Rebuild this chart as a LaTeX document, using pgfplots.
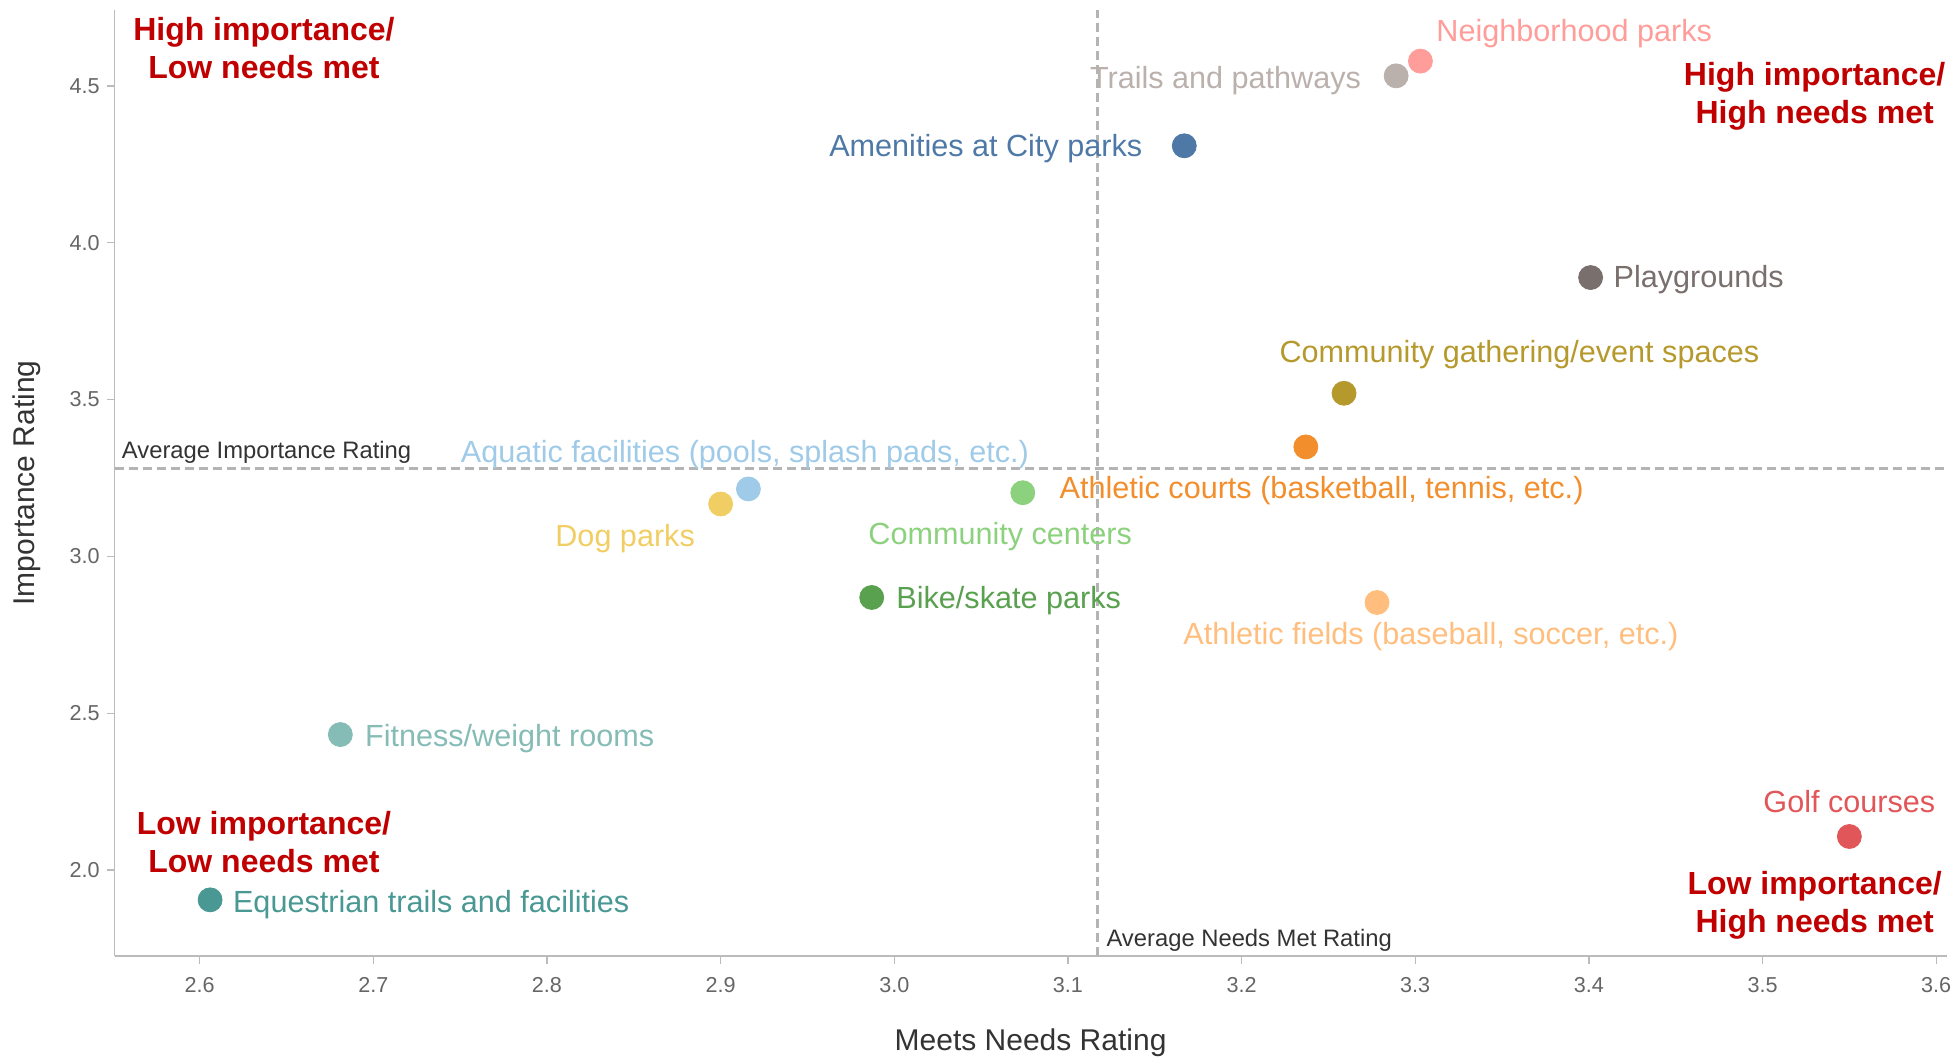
\documentclass[border=0pt]{standalone}
\usepackage{fontspec}
\setmainfont{Liberation Sans}
\usepackage{pgfplots}
\pgfplotsset{compat=1.18}
\definecolor{cNeigh}{HTML}{FF9D9A}
\definecolor{cTrails}{HTML}{BAB0AC}
\definecolor{cAmen}{HTML}{4E79A7}
\definecolor{cPlay}{HTML}{79706E}
\definecolor{cGather}{HTML}{B6992D}
\definecolor{cCourts}{HTML}{F28E2B}
\definecolor{cAqua}{HTML}{A0CBE8}
\definecolor{cDog}{HTML}{F1CE63}
\definecolor{cCenters}{HTML}{8CD17D}
\definecolor{cBike}{HTML}{59A14F}
\definecolor{cFields}{HTML}{FFBE7D}
\definecolor{cFit}{HTML}{86BCB6}
\definecolor{cEques}{HTML}{499894}
\definecolor{cGolf}{HTML}{E15759}
\definecolor{quad}{HTML}{C00000}
\definecolor{axisgray}{HTML}{BBBBBB}
\definecolor{tickgray}{HTML}{666666}
\definecolor{labelgray}{HTML}{333333}
\definecolor{avggray}{HTML}{B4B4B4}
\newcommand{\lbl}{\fontsize{15.3}{18}\selectfont}
\newcommand{\qlbl}{\fontsize{16}{19.3}\selectfont\bfseries}
\tikzset{dl/.style={font=\lbl, yshift=-1.5pt}, dle/.style={dl, inner sep=0pt}}
\begin{document}
\begin{tikzpicture}
\begin{axis}[
  scale only axis, width=916pt, height=473pt,
  xmin=2.551, xmax=3.606, ymin=1.726, ymax=4.742,
  axis x line*=bottom, axis y line*=left,
  axis line style={draw=axisgray, line width=0.8pt, -},
  xtick={2.6,2.7,2.8,2.9,3.0,3.1,3.2,3.3,3.4,3.5,3.6},
  ytick={2.0,2.5,3.0,3.5,4.0,4.5},
  /pgf/number format/fixed, /pgf/number format/fixed zerofill, /pgf/number format/precision=1,
  /pgf/number format/assume math mode=true,
  tick style={draw=axisgray, line width=0.7pt},
  tick align=outside, major tick length=4pt,
  ticklabel style={font=\fontsize{10.8}{12}\selectfont, text=tickgray},
  xticklabel style={yshift=-3pt},
  xlabel={Meets Needs Rating}, ylabel={Importance Rating},
  label style={font=\fontsize{15}{18}\selectfont, text=labelgray},
  xlabel style={at={(axis description cs:0.5,-0.092)}, anchor=center},
  ylabel style={at={(axis description cs:-0.0478,0.5)}, anchor=center},
  clip=false,
]
% average lines
\addplot[avggray, line width=1.7pt, dash pattern=on 4.5pt off 2.5pt] coordinates {(3.117,1.726) (3.117,4.742)};
\addplot[avggray, line width=1.7pt, dash pattern=on 4.5pt off 2.5pt] coordinates {(2.551,3.281) (3.606,3.281)};
\node[anchor=west, inner sep=0pt, yshift=-1.2pt, text=labelgray, font=\fontsize{11.9}{14}\selectfont] at (axis cs:2.555,3.339) {Average Importance Rating};
\node[anchor=west, inner sep=0pt, yshift=-1.2pt, text=labelgray, font=\fontsize{11.9}{14}\selectfont] at (axis cs:3.122,1.785) {Average Needs Met Rating};
% points
\addplot[only marks, mark=*, mark size=6pt, cTrails, mark options={draw=none, fill=cTrails}] coordinates {(3.289,4.532)};
\addplot[only marks, mark=*, mark size=6pt, cNeigh, mark options={draw=none, fill=cNeigh}] coordinates {(3.303,4.579)};
\addplot[only marks, mark=*, mark size=6pt, cAmen, mark options={draw=none, fill=cAmen}] coordinates {(3.167,4.309)};
\addplot[only marks, mark=*, mark size=6pt, cPlay, mark options={draw=none, fill=cPlay}] coordinates {(3.401,3.889)};
\addplot[only marks, mark=*, mark size=6pt, cGather, mark options={draw=none, fill=cGather}] coordinates {(3.259,3.520)};
\addplot[only marks, mark=*, mark size=6pt, cCourts, mark options={draw=none, fill=cCourts}] coordinates {(3.237,3.349)};
\addplot[only marks, mark=*, mark size=6pt, cDog, mark options={draw=none, fill=cDog}] coordinates {(2.900,3.167)};
\addplot[only marks, mark=*, mark size=6pt, cAqua, mark options={draw=none, fill=cAqua}] coordinates {(2.916,3.215)};
\addplot[only marks, mark=*, mark size=6pt, cCenters, mark options={draw=none, fill=cCenters}] coordinates {(3.074,3.203)};
\addplot[only marks, mark=*, mark size=6pt, cBike, mark options={draw=none, fill=cBike}] coordinates {(2.987,2.869)};
\addplot[only marks, mark=*, mark size=6pt, cFields, mark options={draw=none, fill=cFields}] coordinates {(3.278,2.853)};
\addplot[only marks, mark=*, mark size=6pt, cFit, mark options={draw=none, fill=cFit}] coordinates {(2.681,2.432)};
\addplot[only marks, mark=*, mark size=6pt, cEques, mark options={draw=none, fill=cEques}] coordinates {(2.606,1.905)};
\addplot[only marks, mark=*, mark size=6pt, cGolf, mark options={draw=none, fill=cGolf}] coordinates {(3.550,2.107)};
% data labels
\node[anchor=west, dle, text=cNeigh] at (axis cs:3.312,4.675) {Neighborhood parks};
\node[anchor=east, dle, text=cTrails] at (axis cs:3.269,4.528) {Trails and pathways};
\node[anchor=east, dle, text=cAmen] at (axis cs:3.143,4.309) {Amenities at City parks};
\node[anchor=west, dle, text=cPlay] at (axis cs:3.414,3.892) {Playgrounds};
\node[anchor=center, dl, text=cGather] at (axis cs:3.360,3.653) {Community gathering/event spaces};
\node[anchor=west, dle, text=cCourts] at (axis cs:3.095,3.220) {Athletic courts (basketball, tennis, etc.)};
\node[anchor=center, dl, text=cAqua] at (axis cs:2.914,3.335) {Aquatic facilities (pools, splash pads, etc.)};
\node[anchor=center, dl, text=cDog] at (axis cs:2.845,3.065) {Dog parks};
\node[anchor=center, dl, text=cCenters] at (axis cs:3.061,3.073) {Community centers};
\node[anchor=west, dle, text=cBike] at (axis cs:3.001,2.869) {Bike/skate parks};
\node[anchor=center, dl, text=cFields] at (axis cs:3.309,2.755) {Athletic fields (baseball, soccer, etc.)};
\node[anchor=west, dle, text=cFit] at (axis cs:2.695,2.429) {Fitness/weight rooms};
\node[anchor=west, dle, text=cEques] at (axis cs:2.619,1.901) {Equestrian trails and facilities};
\node[anchor=center, dl, text=cGolf] at (axis cs:3.550,2.227) {Golf courses};
% quadrant labels
\node[align=center, yshift=-1.5pt, text=quad, font=\qlbl] at (axis cs:2.637,4.630) {High importance/\\Low needs met};
\node[align=center, yshift=-1.5pt, text=quad, font=\qlbl] at (axis cs:3.530,4.477) {High importance/\\High needs met};
\node[align=center, yshift=-1.5pt, text=quad, font=\qlbl] at (axis cs:2.637,2.099) {Low importance/\\Low needs met};
\node[align=center, yshift=-1.5pt, text=quad, font=\qlbl] at (axis cs:3.530,1.897) {Low importance/\\High needs met};
\end{axis}
\pgfresetboundingbox
\path[use as bounding box] (-57.3pt,-51pt) rectangle (919.7pt,478pt);
\end{tikzpicture}
\end{document}
